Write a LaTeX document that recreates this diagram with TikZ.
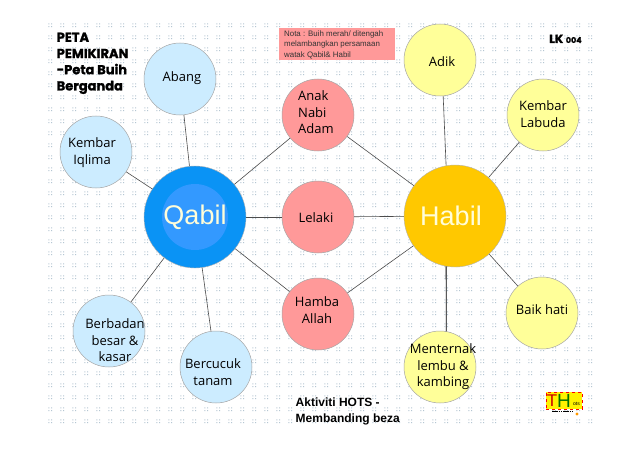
\documentclass[tikz,border=0pt]{standalone}
\usepackage{fontspec}
\setmainfont{Open Sans}
\newfontfamily\arialf{Liberation Sans}
\newfontfamily\titlef[BoldFeatures={FakeBold=1.2}]{Poppins}
\definecolor{ltblue}{HTML}{CCECFF}
\definecolor{ltyellow}{HTML}{FFFF99}
\definecolor{ltpink}{HTML}{FF9999}
\definecolor{bigblue}{HTML}{0A93F5}
\definecolor{innerblue}{HTML}{3399FF}
\definecolor{gold}{HTML}{FFC800}
\definecolor{gridc}{HTML}{B4C6D2}
\tikzset{
 x=1pt,y=-1pt,
 bubble/.style={circle,draw=black!35,line width=0.5pt,minimum size=72pt,inner sep=0pt},
 bluebub/.style={bubble,fill=ltblue},
 yelbub/.style={bubble,fill=ltyellow},
 pinkbub/.style={bubble,fill=ltpink},
 hub/.style={circle,minimum size=102pt,inner sep=0pt,draw=black!30,line width=0.4pt},
 bubtext/.style={align=center,inner sep=0pt,text=black,font=\fontsize{13}{16.5}\selectfont},
 hubtext/.style={inner sep=0pt,text=white!85!yellow,font=\arialf\fontsize{27}{30}\selectfont},
 link/.style={draw=black!70,line width=0.6pt},
 titletext/.style={align=left,anchor=north west,inner sep=0pt,font=\titlef\bfseries\fontsize{13}{16.2}\selectfont},
}
\begin{document}
\begin{tikzpicture}
\useasboundingbox (0,0) rectangle (638,452);
\fill[white] (0,0) rectangle (638,452);
% dotted background
\fill[gridc] \foreach \gx in {0,...,45}{\foreach \gy in {0,...,33}{
   (50+\gx*12-1.6,25+\gy*12-1.6) rectangle +(0.9,0.9)
   (50+\gx*12+1.2,25+\gy*12-1.6) rectangle +(0.9,0.9)
   (50+\gx*12-1.6,25+\gy*12+1.2) rectangle +(0.9,0.9)
   (50+\gx*12+1.2,25+\gy*12+1.2) rectangle +(0.9,0.9)
 }};
% bubbles
\node[hub,fill=bigblue] (qabil) at (195,217) {};
\node[circle,fill=innerblue,minimum size=66pt,inner sep=0pt] (qabilin) at (195,217) {};
\node[hub,fill=gold] (habil) at (455,216) {};
\node[bluebub] (abang) at (180,79) {};
\node[bluebub] (iqlima) at (96,152) {};
\node[bluebub] (badan) at (109,331) {};
\node[bluebub] (cucuk) at (216,367) {};
\node[pinkbub] (anak) at (318,115) {};
\node[pinkbub] (lelaki) at (318,217) {};
\node[pinkbub] (hamba) at (318,314) {};
\node[yelbub] (adik) at (440,60) {};
\node[yelbub] (labuda) at (543,115) {};
\node[yelbub] (baik) at (542,313) {};
\node[yelbub] (ternak) at (440,367) {};
% connectors
\draw[link] (abang) -- (qabil);
\draw[link] (iqlima) -- (qabil);
\draw[link] (badan) -- (qabil);
\draw[link] (cucuk) -- (qabil);
\draw[link] (anak) -- (qabil);
\draw[link] (lelaki) -- (qabil);
\draw[link] (hamba) -- (qabil);
\draw[link] (anak) -- (habil);
\draw[link] (lelaki) -- (habil);
\draw[link] (hamba) -- (habil);
\draw[link] (adik.-85) -- (habil.100);
\draw[link] (labuda) -- (habil);
\draw[link] (baik) -- (habil);
\draw[draw=black,line width=0.8pt] (ternak.80) -- (habil.-100);
% hub text
\node[hubtext] (tq) at (195,217) {Qabil};
\node[hubtext] (th) at (451,216) {Habil};
% bubble text
\node[bubtext] (tabang) at (182,78) {Abang};
\node[bubtext] (tiqlima) at (92,152.5) {Kembar\\Iqlima};
\node[bubtext] (tbadan) at (115,340.5) {Berbadan\\besar \&\\kasar};
\node[bubtext] (tcucuk) at (213,372) {Bercucuk\\tanam};
\node[bubtext,align=left,anchor=west] (tanak) at (298,112.5) {Anak\\Nabi\\Adam};
\node[bubtext] (tlelaki) at (316,218) {Lelaki};
\node[bubtext] (thamba) at (317,310) {Hamba\\Allah};
\node[bubtext] (tadik) at (442,62) {Adik};
\node[bubtext] (tlabuda) at (543,114) {Kembar\\Labuda};
\node[bubtext] (tbaik) at (542,310) {Baik hati};
\node[bubtext] (tternak) at (443,367) {Menternak\\lembu \&\\kambing};
% notes
\node[fill=ltpink,anchor=north west,minimum width=116pt,minimum height=32pt,inner sep=0pt] (notebox) at (279,28) {};
\node[anchor=north west,align=left,inner sep=0pt,text=black!80,font=\arialf\fontsize{7.9}{10.4}\selectfont] (nota) at (284,30.5) {Nota : Buih merah/ ditengah\\melambangkan persamaan\\watak Qabil\& Habil};
\node[titletext] (title) at (56.5,32.5) {PETA\\PEMIKIRAN\\-Peta Buih\\Berganda};
\node[anchor=base west,inner sep=0pt,font=\titlef\bfseries\fontsize{12}{12}\selectfont] (lk) at (549,43) {LK {\fontsize{8}{12}\selectfont 004}};
\node[anchor=north west,align=left,inner sep=0pt,font=\arialf\bfseries\fontsize{12}{16}\selectfont] (hots) at (295.5,398) {Aktiviti HOTS -\\Membanding beza};
% logo
\node[fill=yellow,draw=red,dashed,line width=0.5pt,anchor=north west,minimum width=36pt,minimum height=17pt,inner sep=0pt] (logo) at (546,392) {};
\node[inner sep=0pt,text=red!80!black,font=\arialf\fontsize{17}{17}\selectfont] (logoT) at (552,400.5) {T};
\node[inner sep=0pt,text=green!45!black,font=\arialf\fontsize{19}{19}\selectfont] (logoH) at (564,400.5) {H};
\node[inner sep=0pt,text=black,font=\arialf\fontsize{5}{5}\selectfont] (logoO) at (576.5,403.5) {ots};
\draw[black,line width=1pt,dash pattern=on 1.5pt off 0.7pt] (552,411) -- (574,411);
\fill[orange!80!yellow] (577,414) circle (1.7);
\end{tikzpicture}
\end{document}
